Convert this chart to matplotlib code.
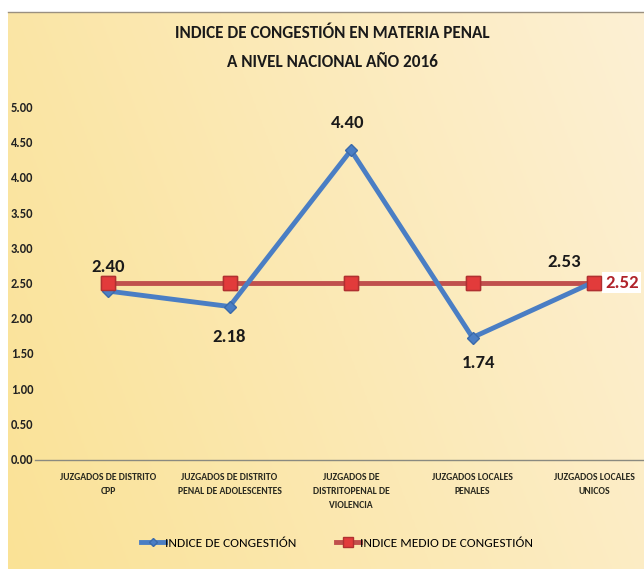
import numpy as np
import matplotlib
matplotlib.use("Agg")
import matplotlib.pyplot as plt
import matplotlib.transforms as mtrans

categories = ["JUZGADOS DE DISTRITO\nCPP", "JUZGADOS DE DISTRITO\nPENAL DE ADOLESCENTES",
              "JUZGADOS DE\nDISTRITOPENAL DE\nVIOLENCIA", "JUZGADOS LOCALES\nPENALES",
              "JUZGADOS LOCALES\nUNICOS"]
indice = [2.40, 2.18, 4.40, 1.74, 2.53]
medio = [2.52, 2.52, 2.52, 2.52, 2.52]
yticks = [0, 0.5, 1, 1.5, 2, 2.5, 3, 3.5, 4, 4.5, 5]

plt.rcParams['font.family'] = ['Carlito', 'DejaVu Sans']

W, H = 644, 569
fig = plt.figure(figsize=(W/100, H/100), dpi=100)
fig.patch.set_facecolor('white')

# background gradient
bg = fig.add_axes([8/W, 0, 1-8/W, 1-12/H])
bg.set_axis_off()
nx, ny = 200, 200
xx = np.linspace(0, 1, nx)[None, :]
yy = np.linspace(0, 1, ny)[:, None]
c1 = np.array([250, 226, 150]) / 255
c2 = np.array([253, 240, 212]) / 255
t = np.clip(0.75*xx + 0.25*(1-yy), 0, 1)
img = c1[None, None, :]*(1-t[..., None]) + c2[None, None, :]*t[..., None]
bg.imshow(img, aspect='auto', extent=[0, 1, 0, 1], origin='upper')
fig.add_artist(plt.Line2D([8/W, 1], [1-12/H, 1-12/H], color='#9a9080', lw=1))

y0, y5 = 460, 108
ppu = (y0 - y5) / 5
bottom = 460
top = 80
ax = fig.add_axes([35/W, (H-bottom)/H, 1-35/W, (bottom-top)/H])
ax.patch.set_alpha(0)
ax.set_ylim(0, (bottom-top)/ppu)
xl = -(108-35)/121.5
ax.set_xlim(xl, xl + (644-35)/121.5)
x = np.arange(len(categories))

ax.plot(x, medio, color='#C0504D', lw=3.5, marker='s', ms=10,
        markerfacecolor='#E23B3B', markeredgecolor='#B03030', zorder=2,
        label='INDICE MEDIO DE CONGESTIÓN')
ax.plot(x, indice, color='#4A7EC4', lw=3.5, marker='D', ms=6,
        markerfacecolor='#4A7EC4', markeredgecolor='#3A6AAA', zorder=3,
        label='INDICE DE CONGESTIÓN')
ax.plot(x, medio, color='none', marker='s', ms=10, markerfacecolor='#E23B3B',
        markeredgecolor='#B03030', zorder=4)

k = 0.72
offsets = [(0, 24), (0, -30), (-3, 27), (6, -25), (-30, 20)]
for xi, v, (dx, dy) in zip(x, indice, offsets):
    ax.annotate(f"{v:.2f}", (xi, v), xytext=(dx*k, dy*k), textcoords='offset points',
                ha='center', va='center', fontsize=13.5, color='#1a1a1a',
                fontweight='semibold')
ax.annotate(f"{medio[-1]:.2f}", (x[-1], medio[-1]), xytext=(11*k, 0), textcoords='offset points',
            ha='left', va='center', fontsize=13.5, color='#B0232A', fontweight='bold',
            bbox=dict(boxstyle='square,pad=0.15', fc='white', ec='none'))

ax.set_yticks(yticks)
ax.set_yticklabels([])
ax.tick_params(axis='y', length=0)
ax.set_xticks(x)
ax.set_xticklabels(categories, fontsize=7, color='#2a2a20', linespacing=1.75,
                   fontweight='bold')
ax.tick_params(axis='x', length=0, pad=9)
for s in ['top', 'right', 'left']:
    ax.spines[s].set_visible(False)
ax.spines['bottom'].set_color('#8a8a80')
ax.spines['bottom'].set_linewidth(1)

trans = mtrans.blended_transform_factory(fig.transFigure, ax.transData)
for v in yticks:
    fig.text(11/W, v, f"{v:.2f}", transform=trans, fontsize=9, color='#222222',
             fontweight='bold', ha='left', va='center')

fig.text(332/W, 1-33/H, "INDICE DE CONGESTIÓN EN MATERIA PENAL", ha='center', va='center',
         fontsize=12.3, color='#1a1a1a', fontweight='bold')
fig.text(332/W, 1-62/H, "A NIVEL NACIONAL AÑO 2016", ha='center', va='center',
         fontsize=12.3, color='#1a1a1a', fontweight='bold')

h, l = ax.get_legend_handles_labels()
fig.legend([h[1], h[0]], [l[1], l[0]], loc='center', bbox_to_anchor=(337/W, 1-543/H),
           ncol=2, frameon=False, fontsize=9.6, handlelength=1.8, columnspacing=2.9,
           handletextpad=0.05, markerscale=0.7)

fig.savefig('out.png', dpi=100, facecolor='white')
